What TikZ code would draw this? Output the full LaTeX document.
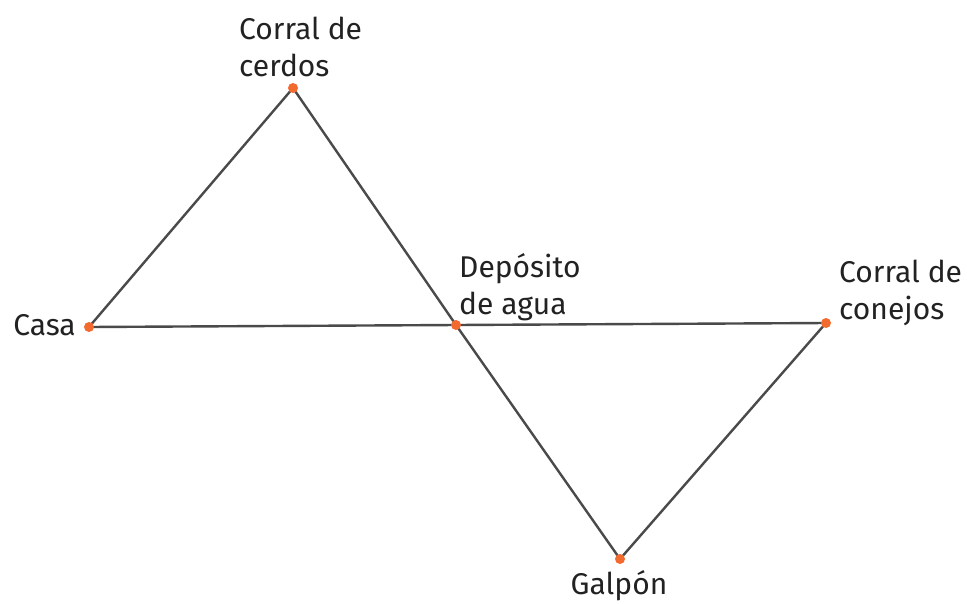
\documentclass[tikz,border=0pt]{standalone}
\usepackage{fontspec}
\setmainfont{Fira Sans}
\definecolor{edgecol}{HTML}{4A4A4A}
\definecolor{dotcol}{HTML}{F26A2E}
\definecolor{txtcol}{HTML}{222222}
\begin{document}
\begin{tikzpicture}[x=1pt,y=-1pt,
  pt/.style={circle,fill=dotcol,inner sep=0pt,minimum size=10pt},
  lbl/.style={inner sep=0pt,align=left,text=txtcol,font=\fontsize{30}{37}\selectfont},
  edge/.style={draw=edgecol,line width=2.4pt}]
\useasboundingbox[fill=white] (0,0) rectangle (967,603);
\coordinate (cA) at (89,327);
\coordinate (cB) at (293,88);
\coordinate (cC) at (456,325);
\coordinate (cD) at (826,323);
\coordinate (cE) at (620,559);
\draw[edge] (cA) -- (cB) -- (cC) -- (cE) -- (cD) -- (cC) -- (cA);
\node[pt] (casa) at (cA) {};
\node[pt] (cerdos) at (cB) {};
\node[pt] (deposito) at (cC) {};
\node[pt] (conejos) at (cD) {};
\node[pt] (galpon) at (cE) {};
\node[lbl,anchor=east] (tcasa) at (76,325) {Casa};
\node[lbl,anchor=west] (tcerdos) at (239,47) {Corral de\\cerdos};
\node[lbl,anchor=west] (tdep) at (459,287) {Depósito\\de agua};
\node[lbl,anchor=west] (tconej) at (839,293) {Corral de\\conejos};
\node[lbl] (tgal) at (619,586) {Galpón};
\end{tikzpicture}
\end{document}
